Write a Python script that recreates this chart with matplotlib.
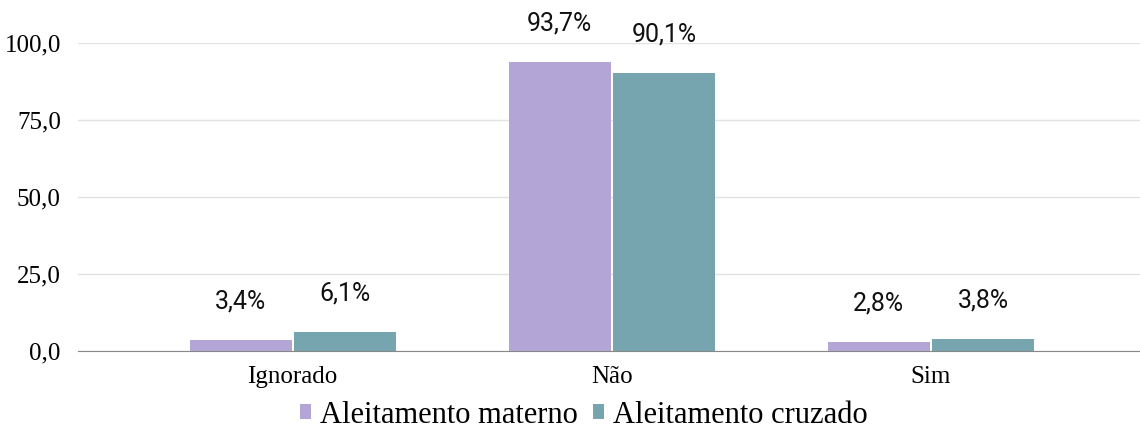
import numpy as np
import matplotlib.pyplot as plt

categorias = ["Ignorado", "Não", "Sim"]
materno = [3.4, 93.7, 2.8]
cruzado = [6.1, 90.1, 3.8]
rotulos_materno = ["3,4%", "93,7%", "2,8%"]
rotulos_cruzado = ["6,1%", "90,1%", "3,8%"]
yticks = [0, 25, 50, 75, 100]

cor_m = "#b3a6d6"
cor_c = "#76a5af"

fig = plt.figure(figsize=(11.4, 4.32), dpi=100)
ax = fig.add_axes([0.068, 0.188, 0.932, 0.713])

x = np.arange(len(categorias))
w = 0.32
b1 = ax.bar(x - w / 2 - 0.003, materno, w, color=cor_m, label="Aleitamento materno", zorder=3)
b2 = ax.bar(x + w / 2 + 0.003, cruzado, w, color=cor_c, label="Aleitamento cruzado", zorder=3)

for rects, rot in [(b1, rotulos_materno), (b2, rotulos_cruzado)]:
    for r, t in zip(rects, rot):
        ax.annotate(t, (r.get_x() + r.get_width() / 2, r.get_height()),
                    xytext=(0, 28), textcoords="offset points", ha="center", va="center",
                    fontsize=18, family="Roboto", color="#111111")

ax.set_xlim(-0.674, 2.655)
ax.set_ylim(0, 100)
ax.set_yticks(yticks)
ax.set_yticklabels(["{:.1f}".format(v).replace(".", ",") for v in yticks],
                   family="Liberation Serif", fontsize=18)
ax.set_xticks(x)
ax.set_xticklabels(categorias, family="Liberation Serif", fontsize=18)
ax.tick_params(length=0, pad=12)
ax.tick_params(axis="x", pad=11)
ax.grid(axis="y", color="#e3e3e3", linewidth=1, zorder=0)
for s in ["top", "right", "left"]:
    ax.spines[s].set_visible(False)
ax.spines["bottom"].set_color("#888888")
ax.spines["bottom"].set_zorder(4)

leg = fig.legend(loc="lower center", bbox_to_anchor=(0.512, -0.058), ncol=2, frameon=False,
                 prop={"family": "Liberation Serif", "size": 22},
                 handlelength=0.35, handleheight=0.35, handletextpad=0.3, columnspacing=0.5)

plt.savefig("out.png", dpi=100)
